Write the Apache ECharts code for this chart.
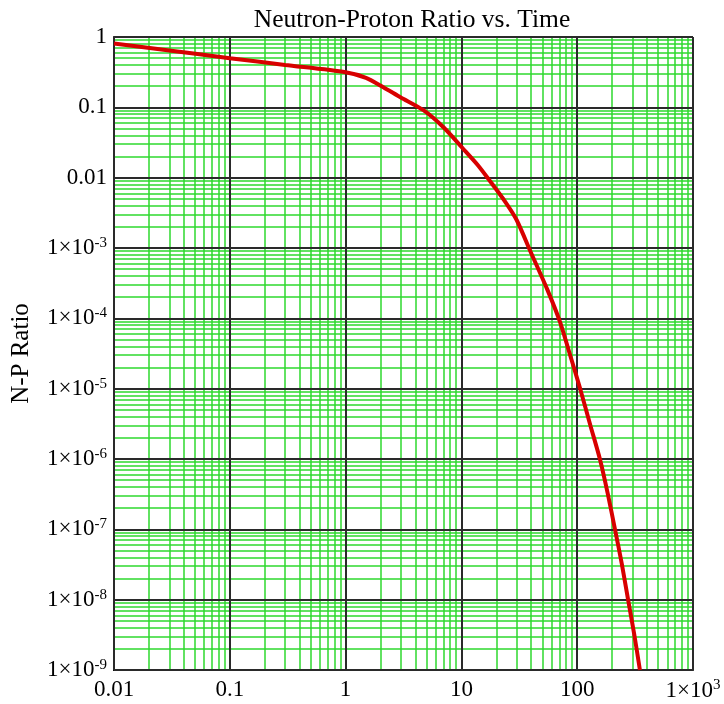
<!DOCTYPE html>
<html>
<head>
<meta charset="utf-8">
<script src="https://cdn.jsdelivr.net/npm/echarts@6/dist/echarts.min.js"></script>
<style>
    html, body { margin: 0; padding: 0; background: #fff; }
    #chart { width: 724px; height: 704px; }
</style>
</head>
<body>
<div id="chart"></div>
<script>
// time (x) and neutron-proton ratio (y)
const timeValues = [0.01, 0.03, 0.1, 0.3, 1, 1.5, 2.1, 3, 4.7, 7, 10.3, 14, 17.7, 24, 30, 40,
    55, 71, 88, 106, 130, 157, 183, 212, 243, 275, 310, 348];
const ratioValues = [0.81, 0.645, 0.50, 0.40, 0.316, 0.263, 0.195, 0.138, 0.091, 0.052, 0.026,
    0.0148, 0.0089, 0.0045, 0.0025, 0.00085, 0.00026, 8.9e-5, 2.8e-5, 1e-5, 3e-6, 1e-6, 3.3e-7,
    1e-7, 3.2e-8, 1e-8, 3.3e-9, 1e-9];

// axis decades (exponents)
const xDecades = [-2, -1, 0, 1, 2, 3];
const yDecades = [-9, -8, -7, -6, -5, -4, -3, -2, -1, 0];
const minorSteps = [2, 3, 4, 5, 6, 7, 8, 9];

const FONT = 'Liberation Serif';
const GREEN = '#2ed82e';
const DARK = '#2a2a2a';

function minorValues(decades) {
    const out = [];
    for (let i = 0; i < decades.length - 1; i++) {
        minorSteps.forEach(m => out.push(m * Math.pow(10, decades[i])));
    }
    return out;
}

function majorValues(decades) {
    return decades.map(e => Math.pow(10, e));
}

function tickLabel(value) {
    const e = Math.round(Math.log10(value));
    if (e >= -2 && e <= 2) {
        return '{b|' + (e < 0 ? Math.pow(10, e).toFixed(-e) : String(Math.pow(10, e))) + '}';
    }
    return '{b|1×10}{s|' + e + '}';
}

const labelRich = {
    b: { fontFamily: FONT, fontSize: 23, color: '#000' },
    s: { fontFamily: FONT, fontSize: 15, color: '#000', verticalAlign: 'top', padding: [0, 0, 10, 0] }
};

function gridLines(xs, ys, color, width, z) {
    return {
        silent: true,
        z: z,
        precision: 12,
        symbol: ['none', 'none'],
        label: { show: false },
        emphasis: { disabled: true },
        animation: false,
        lineStyle: { color: color, width: width, type: 'solid' },
        data: xs.map(v => ({ xAxis: v })).concat(ys.map(v => ({ yAxis: v })))
    };
}

const chart = echarts.init(document.getElementById('chart'));

const options = {
    animation: false,
    backgroundColor: '#fff',
    title: {
        text: 'Neutron-Proton Ratio vs. Time',
        left: 407,
        top: 2,
        textAlign: 'center',
        textStyle: { fontFamily: FONT, fontSize: 25.5, fontWeight: 'normal', color: '#000' }
    },
    grid: {
        left: 114,
        right: 31,
        top: 37,
        bottom: 34,
        show: true,
        backgroundColor: '#fff',
        borderWidth: 0
    },
    xAxis: {
        type: 'log',
        logBase: 10,
        min: 0.01,
        max: 1000,
        splitNumber: 5,
        axisLine: { show: true, lineStyle: { color: '#000', width: 2 } },
        axisTick: { show: false },
        splitLine: { show: false },
        axisLabel: { formatter: tickLabel, rich: labelRich, margin: 8, showMinLabel: true, showMaxLabel: true }
    },
    yAxis: {
        type: 'log',
        logBase: 10,
        min: 1e-9,
        max: 1,
        splitNumber: 9,
        name: 'N-P Ratio',
        nameLocation: 'middle',
        nameRotate: 90,
        nameGap: 80,
        nameTextStyle: { fontFamily: FONT, fontSize: 25, color: '#000' },
        axisLine: { show: true, lineStyle: { color: '#000', width: 2 } },
        axisTick: { show: false },
        splitLine: { show: false },
        axisLabel: { formatter: tickLabel, rich: labelRich, margin: 7, showMinLabel: true, showMaxLabel: true }
    },
    series: [
        {
            name: 'minor',
            type: 'line',
            data: [],
            z: 1,
            markLine: gridLines(minorValues(xDecades), minorValues(yDecades), GREEN, 1.5, 1)
        },
        {
            name: 'major',
            type: 'line',
            data: [],
            z: 2,
            markLine: gridLines(majorValues(xDecades), majorValues(yDecades), DARK, 2, 2)
        },
        {
            name: 'N-P Ratio',
            type: 'line',
            z: 10,
            data: timeValues.map((t, i) => [t, ratioValues[i]]),
            showSymbol: false,
            smooth: 0.25,
            lineStyle: { color: '#d80000', width: 4 },
            itemStyle: { color: '#d80000' }
        }
    ]
};

chart.setOption(options);
</script>
</body>
</html>
